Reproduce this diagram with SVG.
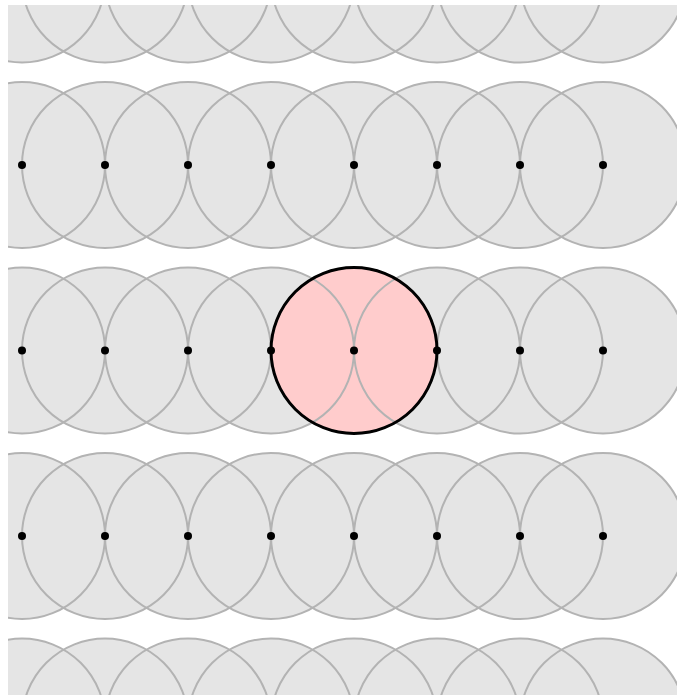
<svg xmlns="http://www.w3.org/2000/svg" xmlns:xlink="http://www.w3.org/1999/xlink" width="677" height="695" viewBox="0 0 677 695">
<style>
.f{fill:#e5e5e5;stroke:none}
.s{fill:none;stroke:#b3b3b3;stroke-width:2}
.hf{fill:#ffcccc;stroke:none}
.hs{fill:none;stroke:#000;stroke-width:3}
.d{fill:#000}
</style>
<defs>
<clipPath id="clip"><rect x="8" y="5" width="669" height="690"/></clipPath>
<g id="row">
<circle cx="22" cy="0" r="83"/><circle cx="105" cy="0" r="83"/><circle cx="188" cy="0" r="83"/><circle cx="271" cy="0" r="83"/>
<circle cx="354" cy="0" r="83"/><circle cx="437" cy="0" r="83"/><circle cx="520" cy="0" r="83"/><circle cx="603" cy="0" r="83"/>
</g>
<g id="dotrow">
<circle cx="22" cy="0" r="4"/><circle cx="105" cy="0" r="4"/><circle cx="188" cy="0" r="4"/><circle cx="271" cy="0" r="4"/>
<circle cx="354" cy="0" r="4"/><circle cx="437" cy="0" r="4"/><circle cx="520" cy="0" r="4"/><circle cx="603" cy="0" r="4"/>
</g>
</defs>
<g clip-path="url(#clip)">
<g id="fills" class="f">
<use xlink:href="#row" y="-20.5"/>
<use xlink:href="#row" y="165"/>
<use xlink:href="#row" y="350.5"/>
<use xlink:href="#row" y="536"/>
<use xlink:href="#row" y="721.5"/>
</g>
<g id="highlight-fill"><circle class="hf" cx="354" cy="350.5" r="83"/></g>
<g id="strokes" class="s">
<use xlink:href="#row" y="-20.5"/>
<use xlink:href="#row" y="165"/>
<use xlink:href="#row" y="350.5"/>
<use xlink:href="#row" y="536"/>
<use xlink:href="#row" y="721.5"/>
</g>
<g id="highlight"><circle class="hs" cx="354" cy="350.5" r="83"/></g>
<g id="centers" class="d">
<use xlink:href="#dotrow" y="165"/>
<use xlink:href="#dotrow" y="350.5"/>
<use xlink:href="#dotrow" y="536"/>
</g>
</g>
</svg>
